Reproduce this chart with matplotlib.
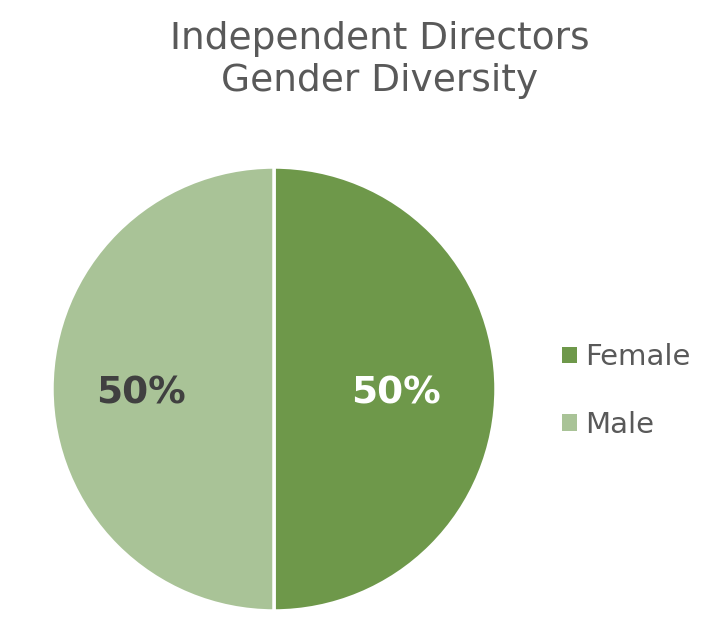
import matplotlib
matplotlib.use("Agg")
import matplotlib.pyplot as plt
from matplotlib.patches import Patch
import numpy as np

categories = ["Female", "Male"]
values = [50, 50]
labels = ["50%", "50%"]
colors = ["#6E984A", "#A9C397"]
label_colors = ["white", "#404040"]
label_radius = [0.55, 0.6]

plt.rcParams['font.family'] = ['DejaVu Sans']
fig = plt.figure(figsize=(7.18, 6.2), dpi=100)
ax = fig.add_axes([52/718, 9/620, 444/718, 444/620])
wedges, _ = ax.pie(values, colors=colors, startangle=90, counterclock=False,
                   wedgeprops=dict(edgecolor="white", linewidth=2.5))
for w, lab, lc, r in zip(wedges, labels, label_colors, label_radius):
    ang = np.deg2rad((w.theta1 + w.theta2) / 2)
    ax.text(r * np.cos(ang), r * np.sin(ang) - 0.02, lab, ha="center", va="center",
            fontsize=27, fontweight="bold", color=lc)
ax.set_xlim(-1, 1)
ax.set_ylim(-1, 1)
ax.set_aspect("auto")
ax.axis("off")

fig.text(380/718, 1 - 60/620, "Independent Directors\nGender Diversity", ha="center", va="center",
         fontsize=27, color="#595959", linespacing=1.2)

handles = [Patch(facecolor=c, edgecolor="none") for c in colors]
fig.legend(handles, categories, loc="center left", bbox_to_anchor=(562/718, 1 - 391/620),
           frameon=False, fontsize=21, labelcolor="#595959", handlelength=0.5, handleheight=0.5,
           handletextpad=0.3, labelspacing=1.35, borderpad=0, borderaxespad=0)

fig.savefig("out.png", dpi=100, facecolor="white")
